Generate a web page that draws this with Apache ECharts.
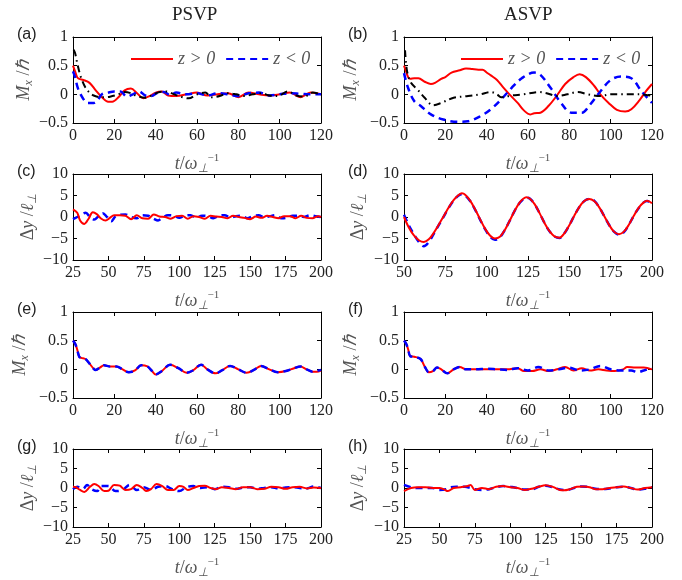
<!DOCTYPE html>
<html>
<head>
<meta charset="utf-8">
<script src="https://cdn.jsdelivr.net/npm/echarts@6/dist/echarts.min.js"></script>
<style>html,body{margin:0;padding:0;background:#fff;}#c{width:682px;height:580px;}</style>
</head>
<body>
<div id="c"></div>
<script>
// ---------- tick labels ----------
const ticksM = [-0.5, 0, 0.5, 1];
const ticksDy = [-10, -5, 0, 5, 10];
const ticksT120 = [0, 20, 40, 60, 80, 100, 120];
const ticksT25 = [25, 50, 75, 100, 125, 150, 175, 200];
const ticksT50 = [50, 75, 100, 125, 150, 175, 200];
const columnTitles = ['PSVP', 'ASVP'];
const panelLetters = ['(a)', '(b)', '(c)', '(d)', '(e)', '(f)', '(g)', '(h)'];
const legendNames = ['z > 0', 'z < 0'];

// ---------- (a) ----------
const aRedT = [0,1,2,3,5,8,11,14,17,19,22,25,28,31,34,37,40,43,46,50,55,60,65,70,75,80,85,90,95,100,105,110,115,120];
const aRedV = [0.5,0.4,0.3,0.27,0.25,0.2,0.07,-0.05,-0.13,-0.13,-0.05,0.07,0.1,0.02,-0.07,-0.03,0.03,0.05,-0.02,-0.03,0.0,0.03,-0.02,0.0,0.02,-0.05,0.03,0.0,-0.02,0.0,0.03,-0.05,0.03,0.0];
const aBlueT = [0,1,2,3,5,7,10,12,14,17,20,23,26,29,32,35,38,41,44,47,50,55,60,65,70,75,80,85,90,95,100,105,110,115,120];
const aBlueV = [0.4,0.3,0.15,0.05,-0.08,-0.15,-0.15,-0.1,0.0,0.03,0.05,0.05,-0.04,0.0,0.05,-0.02,-0.03,0.03,0.04,-0.01,0.03,0.0,0.02,-0.02,0.02,0.0,-0.03,0.02,0.03,-0.02,0.0,0.02,0.01,0.0,0.0];
const aBlackT = [0.3,1,2,3,4,6,8,10,13,16,19,22,25,28,31,35,38,41,45,49,53,56,60,64,67,71,75,79,83,87,91,95,99,104,108,112,116,120];
const aBlackV = [0.78,0.72,0.55,0.4,0.28,0.12,0.03,-0.02,-0.05,-0.05,-0.03,0.0,0.04,0.02,-0.03,-0.06,-0.02,0.03,0.05,0.0,-0.05,-0.07,0.0,0.03,-0.05,-0.03,0.02,0.0,-0.03,0.0,0.02,-0.02,-0.03,0.05,-0.02,-0.04,0.03,0.0];

// ---------- (b) ----------
const bRedT = [0,1,2,3,5,7,10,13,15,18,20,23,27,30,33,36,38,40,42,45,48,51,55,58,61,63,66,70,74,78,82,85,88,92,95,99,103,107,110,114,117,120];
const bRedV = [0.5,0.4,0.3,0.27,0.28,0.28,0.22,0.18,0.2,0.27,0.3,0.38,0.42,0.45,0.44,0.43,0.43,0.38,0.33,0.25,0.12,0.0,-0.15,-0.28,-0.35,-0.33,-0.32,-0.2,-0.02,0.18,0.3,0.35,0.3,0.15,0.0,-0.15,-0.27,-0.3,-0.26,-0.1,0.05,0.18];
const bBlueT = [0,2,5,8,13,19,26,31,37,42,47,52,57,63,66,71,76,81,86,90,95,100,105,110,115,120];
const bBlueV = [0.37,0.11,-0.12,-0.2,-0.35,-0.44,-0.48,-0.47,-0.38,-0.26,-0.09,0.11,0.28,0.38,0.34,0.11,-0.15,-0.32,-0.32,-0.18,0.05,0.25,0.31,0.28,0.05,-0.15];
const bBlackT = [0.5,1.5,3.4,6.6,10,14,18,24,31,37,42,45,47,52,58,65,69,74,79,84,89,95,100,105,110,115,120];
const bBlackV = [0.77,0.4,0.2,0.08,-0.06,-0.19,-0.15,-0.06,-0.03,0.0,0.04,0.0,-0.05,-0.02,0.0,0.04,0.02,-0.03,0.0,0.04,0.0,-0.03,0.0,0.0,0.0,0.0,-0.03];

// ---------- (c) ----------
const cRedT = [25,28,30,33,36,39,42,45,48,51,54,58,62,66,70,74,78,82,86,90,94,98,102,106,110,114,118,122,126,130,134,138,142,146,150,154,158,162,166,170,174,178,182,186,190,194,198,200];
const cRedV = [1.8,1.0,-0.8,-1.6,-0.4,1.1,0.6,-0.4,-0.8,-0.2,0.4,0.4,0.3,-0.5,0.4,-0.3,-0.4,0.6,0.1,0.0,-0.4,0.2,0.3,-0.4,0.2,0.0,-0.4,0.3,0.1,0.0,-0.3,0.3,0.0,-0.2,-0.5,0.1,-0.2,0.3,0.0,-0.3,0.2,0.2,-0.3,0.3,-0.2,-0.3,0.2,0.0];
const cBlueT = [25,28,31,34,37,40,43,46,49,52,55,58,62,66,70,74,78,82,85,88,92,96,100,104,108,112,116,120,124,128,132,136,140,144,148,152,156,160,164,168,172,176,180,184,188,192,196,200];
const cBlueV = [-0.5,0.0,0.5,1.0,0.0,-0.6,0.2,0.9,0.0,-1.0,0.2,0.5,0.6,0.0,-0.3,0.4,0.3,-0.4,-0.8,-0.2,0.4,0.3,-0.2,0.3,0.4,-0.2,0.3,0.2,-0.3,0.3,0.4,-0.1,0.2,0.3,-0.3,0.2,0.4,-0.1,0.2,0.4,-0.3,-0.2,0.3,0.3,0.0,0.4,0.2,0.0];

// ---------- (d) ----------
const dRedT = [50,53,56,59,62,65,68,71,74,77,80,83,85,87,90,93,96,99,102,105,108,111,114,117,120,122,124,126,129,132,135,138,141,144,147,150,153,156,159,162,165,168,171,174,177,180,183,186,189,192,195,197,200];
const dRedV = [0,-2.5,-4.3,-5.4,-5.8,-5.2,-3.7,-1.8,0.2,2.2,3.9,5.1,5.5,5.2,3.8,1.8,-0.5,-2.7,-4.3,-5.0,-4.6,-3.0,-0.8,1.5,3.4,4.2,4.6,4.3,3.0,0.9,-1.4,-3.3,-4.5,-4.8,-3.8,-1.9,0.3,2.3,3.7,4.2,3.7,2.3,0.3,-1.8,-3.4,-4.0,-3.4,-1.8,0.3,2.2,3.4,3.8,3.2];
const dBlueT = [50,53,56,59,62,65,68,71,74,77,80,83,85,87,90,93,96,99,102,105,108,111,114,117,120,122,124,126,129,132,135,138,141,144,147,150,153,156,159,162,165,168,171,174,177,180,183,186,189,192,195,197,200];
const dBlueV = [0.5,-2.0,-4.0,-5.8,-6.8,-5.8,-3.9,-1.9,0.1,2.1,3.8,5.0,5.3,5.0,3.7,1.7,-0.6,-2.8,-4.5,-5.3,-4.7,-3.0,-0.8,1.5,3.3,4.1,4.5,4.3,3.0,0.9,-1.4,-3.3,-4.5,-4.9,-3.8,-1.9,0.3,2.3,3.7,4.2,3.8,2.3,0.3,-1.8,-3.4,-4.1,-3.5,-1.8,0.3,2.1,3.4,3.7,3.0];

// ---------- (e) ----------
const eRedT = [0,1,2,3,4,6,8,10,11,13,15,18,21,24,27,30,33,36,38,40,43,47,51,55,58,62,65,69,72,76,80,84,88,91,95,99,103,107,110,113,116,118,120];
const eRedV = [0.5,0.45,0.35,0.22,0.2,0.18,0.1,0.01,-0.01,0.03,0.07,0.05,0.05,0.0,-0.05,-0.02,0.07,0.05,-0.02,-0.09,-0.03,0.08,0.02,-0.06,-0.02,0.08,0.0,-0.07,-0.02,0.06,0.0,-0.06,0.0,0.06,0.0,-0.05,-0.03,0.02,0.05,0.0,-0.04,-0.04,-0.02];
const eBlueT = [0,1,2,3,4,6,8,10,11,13,15,18,21,24,27,30,33,36,38,40,43,47,51,55,58,62,65,69,72,76,80,84,88,91,95,99,103,107,110,113,116,118,120];
const eBlueV = [0.5,0.45,0.35,0.22,0.2,0.18,0.1,0.01,-0.01,0.03,0.07,0.05,0.05,0.0,-0.05,-0.02,0.07,0.05,-0.02,-0.09,-0.03,0.08,0.02,-0.06,-0.02,0.08,0.0,-0.07,-0.02,0.06,0.0,-0.06,0.0,0.06,0.0,-0.05,-0.03,0.02,0.05,0.0,-0.04,-0.03,-0.01];

// ---------- (f) ----------
const fRedT = [0,1,2,3,5,8,10,12,14,16,18,21,24,27,30,35,40,45,50,55,58,62,66,70,74,78,82,86,90,94,98,102,106,108,112,116,120];
const fRedV = [0.5,0.45,0.35,0.23,0.22,0.18,0.05,-0.05,-0.03,0.03,0.0,-0.07,0.0,0.04,0.0,0.0,0.0,0.0,0.0,0.02,-0.03,-0.03,0.0,-0.03,0.0,0.04,-0.02,0.02,-0.02,0.0,-0.02,-0.03,0.0,0.04,0.03,0.03,0.0];
const fBlueT = [0,1,2,3,5,8,10,12,14,16,18,21,24,27,30,35,40,45,50,55,60,65,70,75,80,85,90,95,100,105,110,113,116,120];
const fBlueV = [0.5,0.45,0.35,0.23,0.22,0.18,0.05,-0.05,-0.03,0.03,0.0,-0.07,0.0,0.04,0.0,0.0,0.01,0.0,-0.01,0.02,-0.02,0.04,-0.02,0.0,0.03,-0.02,0.0,0.06,0.0,-0.02,-0.02,-0.05,-0.02,0.02];

// ---------- (g) ----------
const gRedT = [25,27,30,33,37,40,43,47,50,54,58,62,66,70,74,77,80,84,88,92,96,100,103,106,110,114,118,122,126,130,135,140,145,150,155,160,165,170,175,180,185,190,195,200];
const gRedV = [0.3,0.2,-0.5,-1.0,0.3,1.0,0.5,-0.8,-0.7,0.8,0.6,-0.5,-0.3,0.8,0.0,-0.8,-0.3,1.0,0.5,-0.5,-0.5,0.5,0.3,-0.5,0.0,0.5,0.6,0.0,-0.3,0.2,0.0,-0.3,0.2,0.2,-0.3,-0.2,0.3,0.2,-0.2,0.2,0.3,-0.1,0.1,0.0];
const gBlueT = [25,28,32,35,38,42,45,50,55,60,65,70,75,80,85,90,95,100,105,110,115,120,125,130,135,140,145,150,155,160,165,170,175,180,185,190,195,200];
const gBlueV = [-0.3,0.3,-0.2,0.8,-0.3,-0.8,0.5,0.5,-0.8,-0.5,0.8,-0.5,0.2,-0.5,0.3,0.5,-0.3,-0.8,0.2,0.5,0.0,0.2,-0.3,0.3,0.2,-0.2,0.1,0.2,-0.2,0.0,0.2,-0.1,0.1,0.2,0.0,-0.1,0.4,0.0];

// ---------- (h) ----------
const hRedT = [25,30,35,40,45,50,53,56,60,65,70,72,75,80,85,90,95,100,105,110,115,120,125,130,135,138,142,147,152,156,160,165,170,175,180,185,190,195,200];
const hRedV = [-0.8,0.0,0.2,0.2,0.0,0.0,-0.3,-0.8,0.0,0.2,0.5,0.8,-0.5,0.0,-0.3,0.3,0.5,0.2,0.0,-0.5,-0.2,0.3,0.7,0.3,-0.5,-0.6,-0.3,0.3,0.4,0.2,-0.3,-0.3,0.0,0.2,0.4,0.0,-0.4,0.0,0.2];
const hBlueT = [25,30,35,40,45,50,55,58,62,68,72,75,80,85,90,95,100,105,110,115,120,125,130,135,140,145,150,155,160,165,170,175,180,185,190,195,200];
const hBlueV = [0.8,0.2,0.0,0.0,0.0,-0.5,-0.3,0.2,0.3,0.3,0.0,-0.3,-0.5,-0.3,0.2,0.5,0.3,0.0,-0.4,-0.4,0.3,0.6,0.2,-0.4,-0.5,0.0,0.4,0.3,-0.2,-0.3,-0.1,0.2,0.3,0.0,-0.4,-0.2,0.2];

// ---------- layout ----------
const L = [
  {left:73,  top:37,  xt:ticksT120, yt:ticksM,  yname:'M', gap:38},
  {left:404, top:37,  xt:ticksT120, yt:ticksM,  yname:'M', gap:42},
  {left:73,  top:174, xt:ticksT25,  yt:ticksDy, yname:'D', gap:34},
  {left:404, top:174, xt:ticksT50,  yt:ticksDy, yname:'D', gap:35},
  {left:73,  top:312, xt:ticksT120, yt:ticksM,  yname:'M', gap:42},
  {left:404, top:312, xt:ticksT120, yt:ticksM,  yname:'M', gap:42},
  {left:73,  top:449, xt:ticksT25,  yt:ticksDy, yname:'D', gap:34},
  {left:404, top:449, xt:ticksT25,  yt:ticksDy, yname:'D', gap:35}
];
const W = 248, H = 86;
const SERIF = '"Liberation Serif","Times New Roman",serif';
const RED = {color:'#ff0000', width:2, type:'solid'};
const BLUE = {color:'#0000ff', width:2.5, type:[7,5]};
const BLACK = {color:'#000000', width:2, type:[7,4,1.5,4]};

const seriesDefs = [
  [0, legendNames[0], aRedT, aRedV, RED],
  [0, legendNames[1], aBlueT, aBlueV, BLUE],
  [0, 'c0', aBlackT, aBlackV, BLACK],
  [1, legendNames[0], bRedT, bRedV, RED],
  [1, legendNames[1], bBlueT, bBlueV, BLUE],
  [1, 'c1', bBlackT, bBlackV, BLACK],
  [2, legendNames[1], cBlueT, cBlueV, BLUE],
  [2, legendNames[0], cRedT, cRedV, RED],
  [3, legendNames[1], dBlueT, dBlueV, BLUE],
  [3, legendNames[0], dRedT, dRedV, RED],
  [4, legendNames[0], eRedT, eRedV, RED],
  [4, legendNames[1], eBlueT, eBlueV, BLUE],
  [5, legendNames[0], fRedT, fRedV, RED],
  [5, legendNames[1], fBlueT, fBlueV, BLUE],
  [6, legendNames[1], gBlueT, gBlueV, BLUE],
  [6, legendNames[0], gRedT, gRedV, RED],
  [7, legendNames[1], hBlueT, hBlueV, BLUE],
  [7, legendNames[0], hRedT, hRedV, RED]
];

const richBase = {
  i: {fontFamily:SERIF, fontStyle:'italic', fontSize:18, color:'#555', lineHeight:22},
  n: {fontFamily:SERIF, fontSize:18, color:'#555', lineHeight:22},
  s: {fontFamily:SERIF, fontStyle:'italic', fontSize:12, color:'#555', lineHeight:11, verticalAlign:'bottom'},
  p: {fontFamily:SERIF, fontSize:11, color:'#555', lineHeight:11, verticalAlign:'top'}
};
const nameM = '{i|M}{s|x}{n| /}{i|ℏ}';
const nameD = '{n|Δ}{i|y}{n| /}{i|ℓ}{s|⊥}';
const nameT = '{i|t}{n|/}{i|ω}{s|⊥}{p|−1}';

const fmt = v => String(v).replace('-', '−');

const grids = [], xAxes = [], yAxes = [], series = [];
L.forEach((p, k) => {
  grids.push({left:p.left, top:p.top, width:W, height:H, show:false, containLabel:false});
  const xmin = p.xt[0], xmax = p.xt[p.xt.length-1], xint = p.xt[1]-p.xt[0];
  const ymin = p.yt[0], ymax = p.yt[p.yt.length-1], yint = p.yt[1]-p.yt[0];
  const line = {show:true, onZero:false, lineStyle:{color:'#000', width:1}};
  const tick = {show:true, inside:true, length:4, lineStyle:{color:'#000', width:1}};
  xAxes.push({gridIndex:k, type:'value', position:'bottom', min:xmin, max:xmax, interval:xint,
    axisLine:line, axisTick:tick, splitLine:{show:false},
    axisLabel:{fontFamily:SERIF, fontSize:16, color:'#222', margin:5, formatter:fmt},
    name:nameT, nameLocation:'middle', nameGap:30, nameTextStyle:{rich:richBase}});
  xAxes.push({gridIndex:k, type:'value', position:'top', min:xmin, max:xmax, interval:xint,
    axisLine:line, axisTick:tick, splitLine:{show:false}, axisLabel:{show:false}});
  yAxes.push({gridIndex:k, type:'value', position:'left', min:ymin, max:ymax, interval:yint,
    axisLine:line, axisTick:tick, splitLine:{show:false},
    axisLabel:{fontFamily:SERIF, fontSize:16, color:'#222', margin:5, formatter:fmt},
    name:p.yname === 'M' ? nameM : nameD, nameLocation:'middle', nameGap:p.gap,
    nameTextStyle:{rich:richBase}});
  yAxes.push({gridIndex:k, type:'value', position:'right', min:ymin, max:ymax, interval:yint,
    axisLine:line, axisTick:tick, splitLine:{show:false}, axisLabel:{show:false}});
});

seriesDefs.forEach(d => {
  const [k, name, t, v, st] = d;
  series.push({
    type:'line', name:name, xAxisIndex:2*k, yAxisIndex:2*k,
    data:t.map((x, i) => [x, v[i]]),
    symbol:'none', smooth:0.35, clip:true, silent:true,
    lineStyle:{color:st.color, width:st.width, type:st.type},
    itemStyle:{color:st.color}
  });
});

const graphics = [];
columnTitles.forEach((s, i) => {
  graphics.push({type:'text', left: i === 0 ? 172 : 504, top:6,
    style:{text:s, font:'19px ' + SERIF, fill:'#222'}});
});
panelLetters.forEach((s, k) => {
  const p = L[k];
  graphics.push({type:'text', left: p.left - 56, top: p.top - 10,
    style:{text:s, font:'16px "Liberation Sans",Arial,sans-serif', fill:'#222'}});
});

const legendCommon = {
  data:legendNames, orient:'horizontal', itemWidth:42, itemHeight:14, itemGap:10,
  itemStyle:{opacity:0, borderWidth:0},
  textStyle:{fontFamily:SERIF, fontStyle:'italic', fontSize:18, color:'#555'},
  selectedMode:false
};

const chart = echarts.init(document.getElementById('c'), null, {renderer:'canvas'});
chart.setOption({
  animation:false,
  backgroundColor:'#fff',
  grid:grids, xAxis:xAxes, yAxis:yAxes, series:series,
  legend:[
    Object.assign({}, legendCommon, {left:125, top:45}),
    Object.assign({}, legendCommon, {left:455, top:45})
  ],
  graphic:graphics
});
</script>
</body>
</html>
